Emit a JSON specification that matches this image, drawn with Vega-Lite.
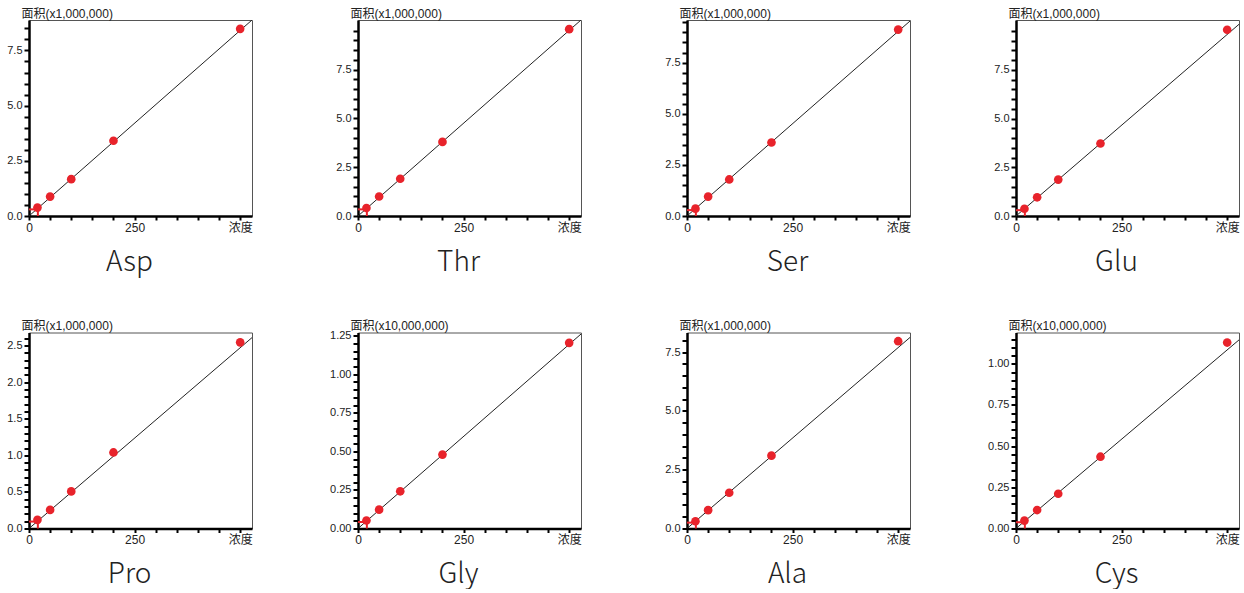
{
  "$schema": "https://vega.github.io/schema/vega-lite/v6.json",
  "padding": {"left": 6, "top": 6, "right": 5, "bottom": 0},
  "datasets": {
    "pts": [
      {"amino": "Asp", "conc": 20, "area": 0.38}, {"amino": "Asp", "conc": 50, "area": 0.88}, {"amino": "Asp", "conc": 100, "area": 1.67}, {"amino": "Asp", "conc": 200, "area": 3.41}, {"amino": "Asp", "conc": 500, "area": 8.48},
      {"amino": "Thr", "conc": 20, "area": 0.41}, {"amino": "Thr", "conc": 50, "area": 1.0}, {"amino": "Thr", "conc": 100, "area": 1.91}, {"amino": "Thr", "conc": 200, "area": 3.8}, {"amino": "Thr", "conc": 500, "area": 9.58},
      {"amino": "Ser", "conc": 20, "area": 0.36}, {"amino": "Ser", "conc": 50, "area": 0.95}, {"amino": "Ser", "conc": 100, "area": 1.79}, {"amino": "Ser", "conc": 200, "area": 3.6}, {"amino": "Ser", "conc": 500, "area": 9.13},
      {"amino": "Glu", "conc": 20, "area": 0.37}, {"amino": "Glu", "conc": 50, "area": 0.96}, {"amino": "Glu", "conc": 100, "area": 1.87}, {"amino": "Glu", "conc": 200, "area": 3.72}, {"amino": "Glu", "conc": 500, "area": 9.56},
      {"amino": "Pro", "conc": 20, "area": 0.118}, {"amino": "Pro", "conc": 50, "area": 0.254}, {"amino": "Pro", "conc": 100, "area": 0.507}, {"amino": "Pro", "conc": 200, "area": 1.04}, {"amino": "Pro", "conc": 500, "area": 2.545},
      {"amino": "Gly", "conc": 20, "area": 0.052}, {"amino": "Gly", "conc": 50, "area": 0.122}, {"amino": "Gly", "conc": 100, "area": 0.241}, {"amino": "Gly", "conc": 200, "area": 0.479}, {"amino": "Gly", "conc": 500, "area": 1.203},
      {"amino": "Ala", "conc": 20, "area": 0.31}, {"amino": "Ala", "conc": 50, "area": 0.78}, {"amino": "Ala", "conc": 100, "area": 1.52}, {"amino": "Ala", "conc": 200, "area": 3.1}, {"amino": "Ala", "conc": 500, "area": 7.97},
      {"amino": "Cys", "conc": 20, "area": 0.048}, {"amino": "Cys", "conc": 50, "area": 0.112}, {"amino": "Cys", "conc": 100, "area": 0.211}, {"amino": "Cys", "conc": 200, "area": 0.436}, {"amino": "Cys", "conc": 500, "area": 1.129}
    ],
    "fit": [
      {"amino": "Asp", "conc": 0, "area": 0}, {"amino": "Asp", "conc": 528, "area": 8.88},
      {"amino": "Thr", "conc": 0, "area": 0}, {"amino": "Thr", "conc": 528, "area": 10.05},
      {"amino": "Ser", "conc": 0, "area": 0}, {"amino": "Ser", "conc": 528, "area": 9.55},
      {"amino": "Glu", "conc": 0, "area": 0}, {"amino": "Glu", "conc": 528, "area": 9.84},
      {"amino": "Pro", "conc": 0, "area": 0}, {"amino": "Pro", "conc": 528, "area": 2.61},
      {"amino": "Gly", "conc": 0, "area": 0}, {"amino": "Gly", "conc": 528, "area": 1.26},
      {"amino": "Ala", "conc": 0, "area": 0}, {"amino": "Ala", "conc": 528, "area": 8.13},
      {"amino": "Cys", "conc": 0, "area": 0}, {"amino": "Cys", "conc": 528, "area": 1.145}
    ],
    "cursor": [
      {"amino": "Asp", "zero": 0, "conc": 21, "area": 0.3},
      {"amino": "Thr", "zero": 0, "conc": 21, "area": 0.34},
      {"amino": "Ser", "zero": 0, "conc": 21, "area": 0.29},
      {"amino": "Glu", "zero": 0, "conc": 21, "area": 0.3},
      {"amino": "Pro", "zero": 0, "conc": 21, "area": 0.095},
      {"amino": "Gly", "zero": 0, "conc": 21, "area": 0.042},
      {"amino": "Ala", "zero": 0, "conc": 21, "area": 0.25},
      {"amino": "Cys", "zero": 0, "conc": 21, "area": 0.038}
    ]
  },
  "columns": 4,
  "bounds": "flush",
  "spacing": {"column": 106, "row": 116.5},
  "concat": [
    {
      "width": 223, "height": 196,
      "encoding": {
        "x": {"field": "conc", "type": "quantitative", "scale": {"domain": [0, 528], "nice": false},
          "axis": {"values": [0,50,100,150,200,250,300,350,400,450,500], "labelExpr": "datum.value==0?'0':datum.value==250?'250':datum.value==500?'浓度':''", "title": "Asp"}},
        "y": {"field": "area", "type": "quantitative", "scale": {"domain": [0, 8.88], "nice": false},
          "axis": {"values": [0,0.5,1,1.5,2,2.5,3,3.5,4,4.5,5,5.5,6,6.5,7,7.5,8,8.5], "format": ".1f", "labelExpr": "abs(datum.value/2.5-round(datum.value/2.5))<0.001?datum.label:''", "title": "面积(x1,000,000)"}}
      },
      "layer": [
        {"data": {"name": "fit"}, "transform": [{"filter": "datum.amino == 'Asp'"}], "mark": {"type": "line", "color": "#222", "strokeWidth": 1, "clip": true}},
        {"data": {"name": "cursor"}, "transform": [{"filter": "datum.amino == 'Asp'"}], "mark": {"type": "rule", "color": "#e8232b", "strokeWidth": 2}, "encoding": {"x": {"field": "zero", "type": "quantitative"}, "x2": {"field": "conc"}}},
        {"data": {"name": "cursor"}, "transform": [{"filter": "datum.amino == 'Asp'"}], "mark": {"type": "rule", "color": "#e8232b", "strokeWidth": 2}, "encoding": {"y": {"field": "zero", "type": "quantitative"}, "y2": {"field": "area"}}},
        {"data": {"name": "pts"}, "transform": [{"filter": "datum.amino == 'Asp'"}], "mark": {"type": "circle", "color": "#e8232b", "opacity": 1, "size": 75}}
      ]
    },
    {
      "width": 223, "height": 196,
      "encoding": {
        "x": {"field": "conc", "type": "quantitative", "scale": {"domain": [0, 528], "nice": false},
          "axis": {"values": [0,50,100,150,200,250,300,350,400,450,500], "labelExpr": "datum.value==0?'0':datum.value==250?'250':datum.value==500?'浓度':''", "title": "Thr"}},
        "y": {"field": "area", "type": "quantitative", "scale": {"domain": [0, 10.05], "nice": false},
          "axis": {"values": [0,0.5,1,1.5,2,2.5,3,3.5,4,4.5,5,5.5,6,6.5,7,7.5,8,8.5,9,9.5], "format": ".1f", "labelExpr": "abs(datum.value/2.5-round(datum.value/2.5))<0.001?datum.label:''", "title": "面积(x1,000,000)"}}
      },
      "layer": [
        {"data": {"name": "fit"}, "transform": [{"filter": "datum.amino == 'Thr'"}], "mark": {"type": "line", "color": "#222", "strokeWidth": 1, "clip": true}},
        {"data": {"name": "cursor"}, "transform": [{"filter": "datum.amino == 'Thr'"}], "mark": {"type": "rule", "color": "#e8232b", "strokeWidth": 2}, "encoding": {"x": {"field": "zero", "type": "quantitative"}, "x2": {"field": "conc"}}},
        {"data": {"name": "cursor"}, "transform": [{"filter": "datum.amino == 'Thr'"}], "mark": {"type": "rule", "color": "#e8232b", "strokeWidth": 2}, "encoding": {"y": {"field": "zero", "type": "quantitative"}, "y2": {"field": "area"}}},
        {"data": {"name": "pts"}, "transform": [{"filter": "datum.amino == 'Thr'"}], "mark": {"type": "circle", "color": "#e8232b", "opacity": 1, "size": 75}}
      ]
    },
    {
      "width": 223, "height": 196,
      "encoding": {
        "x": {"field": "conc", "type": "quantitative", "scale": {"domain": [0, 528], "nice": false},
          "axis": {"values": [0,50,100,150,200,250,300,350,400,450,500], "labelExpr": "datum.value==0?'0':datum.value==250?'250':datum.value==500?'浓度':''", "title": "Ser"}},
        "y": {"field": "area", "type": "quantitative", "scale": {"domain": [0, 9.6], "nice": false},
          "axis": {"values": [0,0.5,1,1.5,2,2.5,3,3.5,4,4.5,5,5.5,6,6.5,7,7.5,8,8.5,9,9.5], "format": ".1f", "labelExpr": "abs(datum.value/2.5-round(datum.value/2.5))<0.001?datum.label:''", "title": "面积(x1,000,000)"}}
      },
      "layer": [
        {"data": {"name": "fit"}, "transform": [{"filter": "datum.amino == 'Ser'"}], "mark": {"type": "line", "color": "#222", "strokeWidth": 1, "clip": true}},
        {"data": {"name": "cursor"}, "transform": [{"filter": "datum.amino == 'Ser'"}], "mark": {"type": "rule", "color": "#e8232b", "strokeWidth": 2}, "encoding": {"x": {"field": "zero", "type": "quantitative"}, "x2": {"field": "conc"}}},
        {"data": {"name": "cursor"}, "transform": [{"filter": "datum.amino == 'Ser'"}], "mark": {"type": "rule", "color": "#e8232b", "strokeWidth": 2}, "encoding": {"y": {"field": "zero", "type": "quantitative"}, "y2": {"field": "area"}}},
        {"data": {"name": "pts"}, "transform": [{"filter": "datum.amino == 'Ser'"}], "mark": {"type": "circle", "color": "#e8232b", "opacity": 1, "size": 75}}
      ]
    },
    {
      "width": 223, "height": 196,
      "encoding": {
        "x": {"field": "conc", "type": "quantitative", "scale": {"domain": [0, 528], "nice": false},
          "axis": {"values": [0,50,100,150,200,250,300,350,400,450,500], "labelExpr": "datum.value==0?'0':datum.value==250?'250':datum.value==500?'浓度':''", "title": "Glu"}},
        "y": {"field": "area", "type": "quantitative", "scale": {"domain": [0, 10.06], "nice": false},
          "axis": {"values": [0,0.5,1,1.5,2,2.5,3,3.5,4,4.5,5,5.5,6,6.5,7,7.5,8,8.5,9,9.5], "format": ".1f", "labelExpr": "abs(datum.value/2.5-round(datum.value/2.5))<0.001?datum.label:''", "title": "面积(x1,000,000)"}}
      },
      "layer": [
        {"data": {"name": "fit"}, "transform": [{"filter": "datum.amino == 'Glu'"}], "mark": {"type": "line", "color": "#222", "strokeWidth": 1, "clip": true}},
        {"data": {"name": "cursor"}, "transform": [{"filter": "datum.amino == 'Glu'"}], "mark": {"type": "rule", "color": "#e8232b", "strokeWidth": 2}, "encoding": {"x": {"field": "zero", "type": "quantitative"}, "x2": {"field": "conc"}}},
        {"data": {"name": "cursor"}, "transform": [{"filter": "datum.amino == 'Glu'"}], "mark": {"type": "rule", "color": "#e8232b", "strokeWidth": 2}, "encoding": {"y": {"field": "zero", "type": "quantitative"}, "y2": {"field": "area"}}},
        {"data": {"name": "pts"}, "transform": [{"filter": "datum.amino == 'Glu'"}], "mark": {"type": "circle", "color": "#e8232b", "opacity": 1, "size": 75}}
      ]
    },
    {
      "width": 223, "height": 196,
      "encoding": {
        "x": {"field": "conc", "type": "quantitative", "scale": {"domain": [0, 528], "nice": false},
          "axis": {"values": [0,50,100,150,200,250,300,350,400,450,500], "labelExpr": "datum.value==0?'0':datum.value==250?'250':datum.value==500?'浓度':''", "title": "Pro"}},
        "y": {"field": "area", "type": "quantitative", "scale": {"domain": [0, 2.68], "nice": false},
          "axis": {"values": [0,0.1,0.2,0.3,0.4,0.5,0.6,0.7,0.8,0.9,1,1.1,1.2,1.3,1.4,1.5,1.6,1.7,1.8,1.9,2,2.1,2.2,2.3,2.4,2.5,2.6], "format": ".1f", "labelExpr": "abs(datum.value/0.5-round(datum.value/0.5))<0.001?datum.label:''", "title": "面积(x1,000,000)"}}
      },
      "layer": [
        {"data": {"name": "fit"}, "transform": [{"filter": "datum.amino == 'Pro'"}], "mark": {"type": "line", "color": "#222", "strokeWidth": 1, "clip": true}},
        {"data": {"name": "cursor"}, "transform": [{"filter": "datum.amino == 'Pro'"}], "mark": {"type": "rule", "color": "#e8232b", "strokeWidth": 2}, "encoding": {"x": {"field": "zero", "type": "quantitative"}, "x2": {"field": "conc"}}},
        {"data": {"name": "cursor"}, "transform": [{"filter": "datum.amino == 'Pro'"}], "mark": {"type": "rule", "color": "#e8232b", "strokeWidth": 2}, "encoding": {"y": {"field": "zero", "type": "quantitative"}, "y2": {"field": "area"}}},
        {"data": {"name": "pts"}, "transform": [{"filter": "datum.amino == 'Pro'"}], "mark": {"type": "circle", "color": "#e8232b", "opacity": 1, "size": 75}}
      ]
    },
    {
      "width": 223, "height": 196,
      "encoding": {
        "x": {"field": "conc", "type": "quantitative", "scale": {"domain": [0, 528], "nice": false},
          "axis": {"values": [0,50,100,150,200,250,300,350,400,450,500], "labelExpr": "datum.value==0?'0':datum.value==250?'250':datum.value==500?'浓度':''", "title": "Gly"}},
        "y": {"field": "area", "type": "quantitative", "scale": {"domain": [0, 1.27], "nice": false},
          "axis": {"values": [0,0.05,0.1,0.15,0.2,0.25,0.3,0.35,0.4,0.45,0.5,0.55,0.6,0.65,0.7,0.75,0.8,0.85,0.9,0.95,1,1.05,1.1,1.15,1.2,1.25], "format": ".2f", "labelExpr": "abs(datum.value/0.25-round(datum.value/0.25))<0.001?datum.label:''", "title": "面积(x10,000,000)"}}
      },
      "layer": [
        {"data": {"name": "fit"}, "transform": [{"filter": "datum.amino == 'Gly'"}], "mark": {"type": "line", "color": "#222", "strokeWidth": 1, "clip": true}},
        {"data": {"name": "cursor"}, "transform": [{"filter": "datum.amino == 'Gly'"}], "mark": {"type": "rule", "color": "#e8232b", "strokeWidth": 2}, "encoding": {"x": {"field": "zero", "type": "quantitative"}, "x2": {"field": "conc"}}},
        {"data": {"name": "cursor"}, "transform": [{"filter": "datum.amino == 'Gly'"}], "mark": {"type": "rule", "color": "#e8232b", "strokeWidth": 2}, "encoding": {"y": {"field": "zero", "type": "quantitative"}, "y2": {"field": "area"}}},
        {"data": {"name": "pts"}, "transform": [{"filter": "datum.amino == 'Gly'"}], "mark": {"type": "circle", "color": "#e8232b", "opacity": 1, "size": 75}}
      ]
    },
    {
      "width": 223, "height": 196,
      "encoding": {
        "x": {"field": "conc", "type": "quantitative", "scale": {"domain": [0, 528], "nice": false},
          "axis": {"values": [0,50,100,150,200,250,300,350,400,450,500], "labelExpr": "datum.value==0?'0':datum.value==250?'250':datum.value==500?'浓度':''", "title": "Ala"}},
        "y": {"field": "area", "type": "quantitative", "scale": {"domain": [0, 8.34], "nice": false},
          "axis": {"values": [0,0.5,1,1.5,2,2.5,3,3.5,4,4.5,5,5.5,6,6.5,7,7.5,8], "format": ".1f", "labelExpr": "abs(datum.value/2.5-round(datum.value/2.5))<0.001?datum.label:''", "title": "面积(x1,000,000)"}}
      },
      "layer": [
        {"data": {"name": "fit"}, "transform": [{"filter": "datum.amino == 'Ala'"}], "mark": {"type": "line", "color": "#222", "strokeWidth": 1, "clip": true}},
        {"data": {"name": "cursor"}, "transform": [{"filter": "datum.amino == 'Ala'"}], "mark": {"type": "rule", "color": "#e8232b", "strokeWidth": 2}, "encoding": {"x": {"field": "zero", "type": "quantitative"}, "x2": {"field": "conc"}}},
        {"data": {"name": "cursor"}, "transform": [{"filter": "datum.amino == 'Ala'"}], "mark": {"type": "rule", "color": "#e8232b", "strokeWidth": 2}, "encoding": {"y": {"field": "zero", "type": "quantitative"}, "y2": {"field": "area"}}},
        {"data": {"name": "pts"}, "transform": [{"filter": "datum.amino == 'Ala'"}], "mark": {"type": "circle", "color": "#e8232b", "opacity": 1, "size": 75}}
      ]
    },
    {
      "width": 223, "height": 196,
      "encoding": {
        "x": {"field": "conc", "type": "quantitative", "scale": {"domain": [0, 528], "nice": false},
          "axis": {"values": [0,50,100,150,200,250,300,350,400,450,500], "labelExpr": "datum.value==0?'0':datum.value==250?'250':datum.value==500?'浓度':''", "title": "Cys"}},
        "y": {"field": "area", "type": "quantitative", "scale": {"domain": [0, 1.19], "nice": false},
          "axis": {"values": [0,0.05,0.1,0.15,0.2,0.25,0.3,0.35,0.4,0.45,0.5,0.55,0.6,0.65,0.7,0.75,0.8,0.85,0.9,0.95,1,1.05,1.1,1.15], "format": ".2f", "labelExpr": "abs(datum.value/0.25-round(datum.value/0.25))<0.001?datum.label:''", "title": "面积(x10,000,000)"}}
      },
      "layer": [
        {"data": {"name": "fit"}, "transform": [{"filter": "datum.amino == 'Cys'"}], "mark": {"type": "line", "color": "#222", "strokeWidth": 1, "clip": true}},
        {"data": {"name": "cursor"}, "transform": [{"filter": "datum.amino == 'Cys'"}], "mark": {"type": "rule", "color": "#e8232b", "strokeWidth": 2}, "encoding": {"x": {"field": "zero", "type": "quantitative"}, "x2": {"field": "conc"}}},
        {"data": {"name": "cursor"}, "transform": [{"filter": "datum.amino == 'Cys'"}], "mark": {"type": "rule", "color": "#e8232b", "strokeWidth": 2}, "encoding": {"y": {"field": "zero", "type": "quantitative"}, "y2": {"field": "area"}}},
        {"data": {"name": "pts"}, "transform": [{"filter": "datum.amino == 'Cys'"}], "mark": {"type": "circle", "color": "#e8232b", "opacity": 1, "size": 75}}
      ]
    }
  ],
  "config": {
    "font": "Liberation Sans, Noto Sans CJK SC",
    "view": {"stroke": "#555", "strokeWidth": 1},
    "axis": {
      "grid": false,
      "domainColor": "#000", "domainWidth": 2.5,
      "tickColor": "#000", "tickWidth": 2,
      "labelFont": "Liberation Sans, Noto Sans CJK SC", "labelColor": "#222", "labelPadding": 2,
      "labelOverlap": false, "labelFlush": false
    },
    "axisX": {
      "tickSize": 4, "labelFontSize": 12,
      "titleFont": "Noto Sans CJK SC", "titleFontSize": 28, "titleFontWeight": 300, "titleColor": "#222",
      "titleAnchor": "start", "titleAlign": "center", "titleX": 100, "titleY": 54, "titleBaseline": "alphabetic"
    },
    "axisY": {
      "tickSize": 5, "labelFontSize": 11,
      "titleFont": "Liberation Sans, Noto Sans CJK SC", "titleFontSize": 12, "titleFontWeight": "normal", "titleColor": "#222",
      "titleAngle": 0, "titleAlign": "left", "titleBaseline": "alphabetic", "titleX": -8, "titleY": -3
    }
  }
}
